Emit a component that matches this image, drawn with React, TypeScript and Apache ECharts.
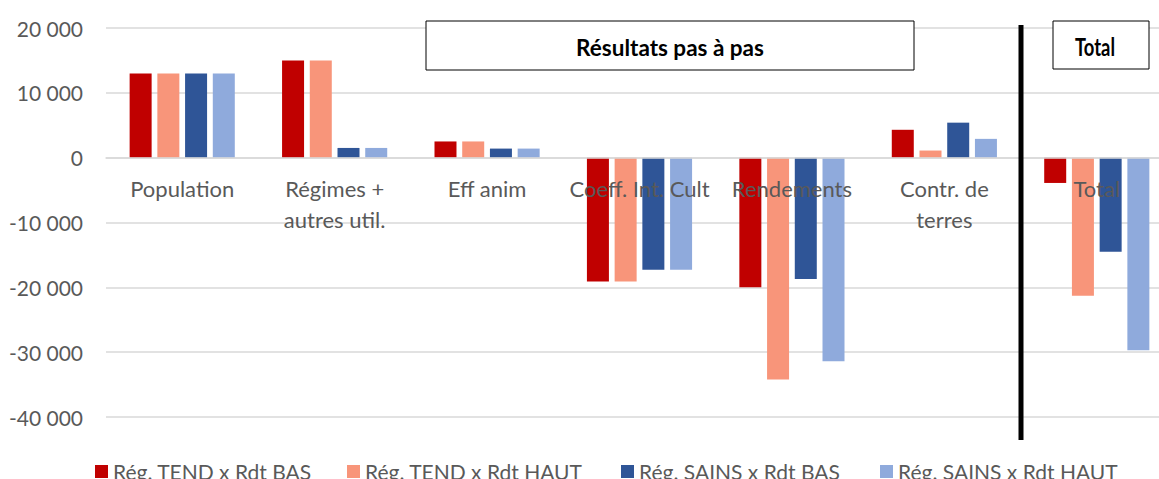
import React, { useEffect, useRef } from "react";
import * as echarts from "echarts";

const categories = [
  "Population",
  "Régimes +\nautres util.",
  "Eff anim",
  "Coeff. Int. Cult",
  "Rendements",
  "Contr. de\nterres",
  "Total",
];
const seriesNames = [
  "Rég. TEND x Rdt BAS",
  "Rég. TEND x Rdt HAUT",
  "Rég. SAINS x Rdt BAS",
  "Rég. SAINS x Rdt HAUT",
];
const tendBas = [13000, 15000, 2500, -19100, -20000, 4300, -3900];
const tendHaut = [13000, 15000, 2500, -19100, -34200, 1100, -21300];
const sainsBas = [13000, 1500, 1400, -17300, -18700, 5400, -14500];
const sainsHaut = [13000, 1500, 1400, -17300, -31400, 2900, -29700];
const colors = ["#C00000", "#F8957A", "#2F5597", "#8FAADC"];
const yTicks = { min: -40000, max: 20000, interval: 10000 };

const FONT = "Lato";
const GREY = "#595959";

export default function App() {
  const ref = useRef<HTMLDivElement>(null);
  useEffect(() => {
    if (!ref.current) return;
    const chart = echarts.init(ref.current, undefined, { renderer: "svg" });
    const values = [tendBas, tendHaut, sainsBas, sainsHaut];
    const legendLefts = [90, 342, 616, 875];
    const gridTop = 28;
    const gridBottom = 62;
    const gridH = 479 - gridTop - gridBottom;
    const zeroFromBottom = (gridH * (0 - yTicks.min)) / (yTicks.max - yTicks.min);
    chart.setOption({
      animation: false,
      grid: {
        left: 106,
        right: -14,
        top: gridTop,
        bottom: gridBottom,
        containLabel: false,
        outerBoundsMode: "none",
      },
      legend: seriesNames.map((n, i) => ({
        data: [n],
        left: legendLefts[i],
        top: 456,
        itemWidth: 13,
        itemHeight: 13,
        itemGap: 0,
        icon: "rect",
        textStyle: { fontFamily: FONT, fontSize: 21, color: GREY, padding: [0, 0, 0, 0] },
      })),
      xAxis: {
        type: "category",
        data: categories,
        z: 10,
        position: "bottom",
        offset: -zeroFromBottom,
        axisLine: { onZero: false, lineStyle: { color: "#D9D9D9", width: 1.5 } },
        axisTick: { show: false },
        axisLabel: {
          fontFamily: FONT,
          fontSize: 22,
          color: GREY,
          margin: 15,
          lineHeight: 31,
          interval: 0,
        },
      },
      yAxis: {
        type: "value",
        min: yTicks.min,
        max: yTicks.max,
        interval: yTicks.interval,
        axisLine: { show: false },
        axisTick: { show: false },
        splitLine: { lineStyle: { color: "#D9D9D9", width: 1.5 } },
        axisLabel: {
          fontFamily: FONT,
          fontSize: 21,
          color: GREY,
          margin: 23,
          formatter: (v: number) => {
            const s = Math.abs(v).toString().replace(/\B(?=(\d{3})+(?!\d))/g, " ");
            return (v < 0 ? "-" : "") + s;
          },
        },
      },
      series: seriesNames.map((n, i) => ({
        name: n,
        type: "bar",
        data: values[i],
        barWidth: 22,
        barGap: "26%",
        itemStyle: { color: colors[i] },
      })),
      graphic: [
        {
          type: "rect",
          shape: { x: 426, y: 21, width: 488, height: 49 },
          style: { fill: "#fff", stroke: "#000", lineWidth: 1 },
          z: 100,
        },
        {
          type: "text",
          x: 670,
          y: 47,
          style: {
            text: "Résultats pas à pas",
            fontFamily: FONT,
            fontWeight: "bold",
            fontSize: 22.5,
            fill: "#000",
            align: "center",
            verticalAlign: "middle",
          },
          z: 101,
        },
        {
          type: "rect",
          shape: { x: 1053, y: 21, width: 96, height: 48 },
          style: { fill: "#fff", stroke: "#000", lineWidth: 1 },
          z: 100,
        },
        {
          type: "text",
          x: 1095,
          y: 46,
          scaleX: 0.8,
          scaleY: 1.08,
          style: {
            text: "Total",
            fontFamily: FONT,
            fontWeight: "bold",
            fontSize: 23,
            fill: "#000",
            align: "center",
            verticalAlign: "middle",
          },
          z: 101,
        },
        {
          type: "line",
          shape: { x1: 1021, y1: 25, x2: 1021, y2: 440 },
          style: { stroke: "#000", lineWidth: 5 },
          z: 100,
        },
      ],
    });
    return () => chart.dispose();
  }, []);
  return (
    <div
      ref={ref}
      style={{ position: "fixed", left: 0, top: 0, width: 1159, height: 479, background: "#fff" }}
    />
  );
}
